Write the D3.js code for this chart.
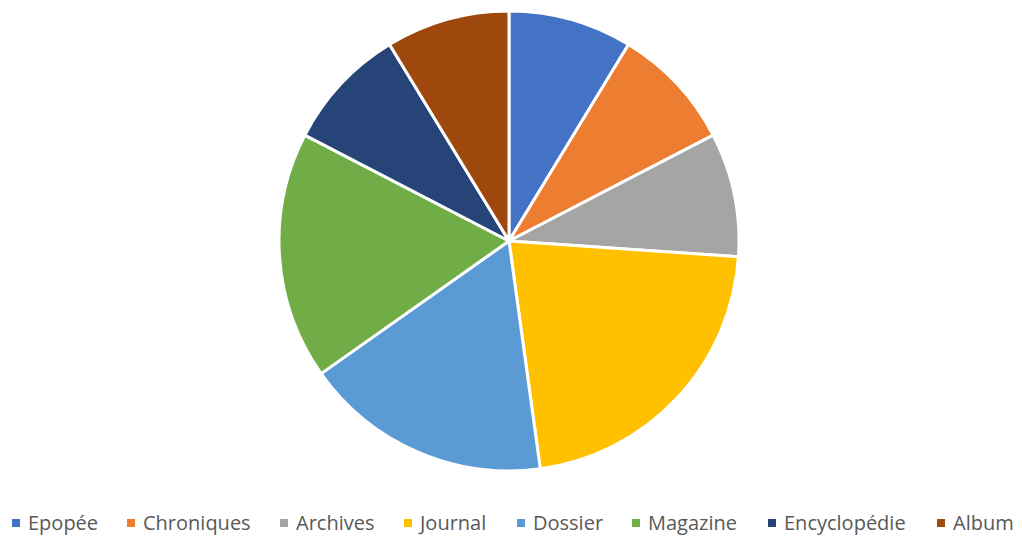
<!DOCTYPE html>
<html><head><meta charset="utf-8">
<script src="https://cdn.jsdelivr.net/npm/d3@7"></script>
<style>body{margin:0;background:#fff}svg{display:block}</style>
</head><body>
<svg id="c" width="1022" height="539"></svg>
<script>
const categories = ["Epopée","Chroniques","Archives","Journal","Dossier","Magazine","Encyclopédie","Album"];
const values = [2,2,2,5,4,4,2,2];
const colors = ["#4472C4","#ED7D31","#A5A5A5","#FFC000","#5B9BD5","#70AD47","#264478","#9E480E"];
const legendX = [28,143,296,420,533,648,784,953];

const svg = d3.select("#c");
const cx = 509, cy = 241, r = 230;
const pie = d3.pie().sort(null).value(d => d)(values);
const arc = d3.arc().innerRadius(0).outerRadius(r);
const g = svg.append("g").attr("transform", `translate(${cx},${cy})`);
g.selectAll("path").data(pie).enter().append("path")
  .attr("d", arc).attr("fill", (d,i) => colors[i])
  .attr("stroke", "#fff").attr("stroke-width", 3).attr("stroke-linejoin","round");

const lg = svg.append("g");
categories.forEach((c,i) => {
  lg.append("rect").attr("x", legendX[i]-16).attr("y", 519).attr("width", 8).attr("height", 8).attr("fill", colors[i]);
  lg.append("text").attr("x", legendX[i]).attr("y", 530).text(c)
    .attr("font-family", "'Open Sans', sans-serif").attr("font-size", 20).attr("fill", "#595959");
});
</script>
</body></html>
